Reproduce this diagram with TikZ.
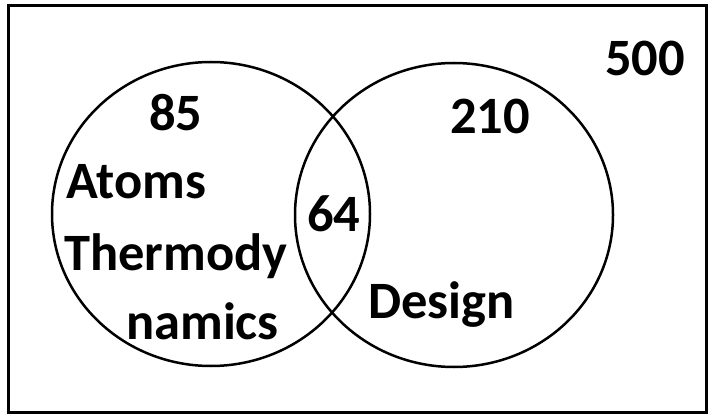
\documentclass[tikz,border=0pt]{standalone}
\usepackage{fontspec}
\setmainfont{Carlito}
\usepackage{tikz}

\begin{document}
\begin{tikzpicture}[x=1pt,y=1pt,
  venntext/.style={anchor=base west,inner sep=0pt,font=\fontsize{52.5}{62}\selectfont\bfseries},
  setline/.style={line width=2.5pt}]
\useasboundingbox (0,0) rectangle (712,418);
\draw[line width=3pt] (8,6) rectangle (706,412);
\draw[setline] (211,204) ellipse [x radius=159,y radius=152];
\draw[setline] (454,203) ellipse [x radius=159,y radius=152];
\node[venntext] (n85) at (149,287) {85};
\node[venntext] (atoms) at (66,219) {Atoms};
\node[venntext] (thermo) at (64,147) {Thermody};
\node[venntext] (namics) at (126,79) {namics};
\node[venntext] (n64) at (307,186) {64};
\node[venntext] (design) at (368,100) {Design};
\node[venntext] (n210) at (450,284) {210};
\node[venntext] (n500) at (605,342) {500};
\end{tikzpicture}
\end{document}
